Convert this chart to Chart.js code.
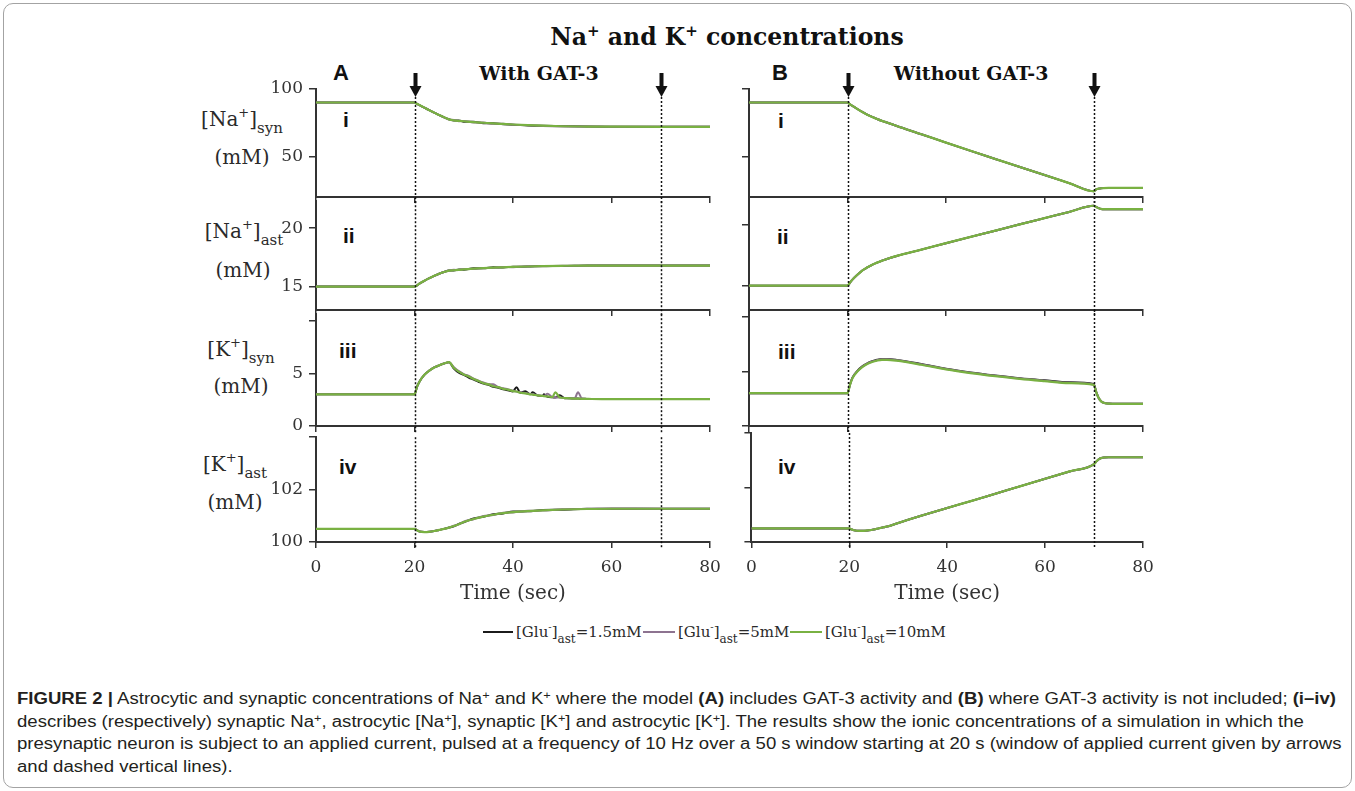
<!DOCTYPE html>
<html>
<head>
<meta charset="utf-8">
<script src="https://cdn.jsdelivr.net/npm/chart.js@4.4.0/dist/chart.umd.min.js"></script>
<style>
html,body{margin:0;padding:0;background:#fff;}
#fig{position:relative;width:1355px;height:791px;overflow:hidden;font-family:'DejaVu Serif',serif;color:#2a2a2a;}
#frame{position:absolute;left:3px;top:3px;width:1349px;height:785px;box-sizing:border-box;border:1.5px solid #a3a3a3;border-radius:10px;}
canvas{position:absolute;}
.t{position:absolute;white-space:nowrap;line-height:24px;}
.c{transform:translate(-50%,-50%);}
.m{transform:translateY(-50%);}
.ylab{font-size:20px;}
.ylab sup{font-size:13px;vertical-align:9px;line-height:0;}
.ylab sub{font-size:15px;vertical-align:-7px;line-height:0;}
.num{font:bold 21px 'Liberation Sans',Arial,sans-serif;color:#111;}
.head{font-weight:bold;font-size:19px;color:#111;}
.leg{position:absolute;top:620px;height:24px;line-height:24px;font-size:15px;white-space:nowrap;}
.leg i{display:inline-block;height:2px;margin-right:3px;vertical-align:middle;position:relative;top:-1px;}
.leg sup{font-size:10px;vertical-align:7px;line-height:0;}
.leg sub{font-size:12px;vertical-align:-6px;line-height:0;}
#cap{position:absolute;left:17px;top:688px;font-family:'Liberation Sans',Arial,sans-serif;font-size:16px;line-height:22.7px;color:#231f20;transform-origin:0 0;}
#cap div{white-space:nowrap;}
#cap sup{font-size:11px;vertical-align:5px;line-height:0;}
</style>
</head>
<body>
<div id="fig">
  <div id="frame"></div>

  <div class="t c" style="left:727px;top:37px;font-size:23.5px;font-weight:bold;color:#111;">Na<sup style="font-size:15px;line-height:0;vertical-align:9px">+</sup> and K<sup style="font-size:15px;line-height:0;vertical-align:9px">+</sup> concentrations</div>

  <div class="t c" style="left:341px;top:73px;font:bold 22px 'Liberation Sans',Arial,sans-serif;color:#111;">A</div>
  <div class="t c head" style="left:539px;top:73px;">With GAT-3</div>
  <div class="t c" style="left:780px;top:73px;font:bold 22px 'Liberation Sans',Arial,sans-serif;color:#111;">B</div>
  <div class="t c head" style="left:971px;top:73px;">Without GAT-3</div>

  <div class="t c ylab" style="left:242px;top:119px;">[Na<sup>+</sup>]<sub>syn</sub></div>
  <div class="t c ylab" style="left:242px;top:157px;">(mM)</div>
  <div class="t c ylab" style="left:244px;top:231px;">[Na<sup>+</sup>]<sub>ast</sub></div>
  <div class="t c ylab" style="left:243px;top:270px;">(mM)</div>
  <div class="t c ylab" style="left:241px;top:349px;">[K<sup>+</sup>]<sub>syn</sub></div>
  <div class="t c ylab" style="left:241px;top:386px;">(mM)</div>
  <div class="t c ylab" style="left:235px;top:464px;">[K<sup>+</sup>]<sub>ast</sub></div>
  <div class="t c ylab" style="left:235px;top:502px;">(mM)</div>

  <div class="t m num" style="left:343px;top:120px;">i</div>
  <div class="t m num" style="left:343px;top:236px;">ii</div>
  <div class="t m num" style="left:339px;top:351px;">iii</div>
  <div class="t m num" style="left:339px;top:467px;">iv</div>
  <div class="t m num" style="left:778px;top:121px;">i</div>
  <div class="t m num" style="left:777px;top:237px;">ii</div>
  <div class="t m num" style="left:778px;top:352px;">iii</div>
  <div class="t m num" style="left:778px;top:467px;">iv</div>

  <div class="leg" style="left:483px;"><i style="width:30px;background:#1b1b1b"></i><span>[Glu<sup>-</sup>]<sub>ast</sub>=1.5mM</span></div>
  <div class="leg" style="left:643px;"><i style="width:32px;background:#8d7390"></i><span>[Glu<sup>-</sup>]<sub>ast</sub>=5mM</span></div>
  <div class="leg" style="left:790px;"><i style="width:32px;background:#79b142"></i><span>[Glu<sup>-</sup>]<sub>ast</sub>=10mM</span></div>

  <div id="cap">
    <div><span id="capLine1"><b>FIGURE 2 |</b> Astrocytic and synaptic concentrations of Na<sup>+</sup> and K<sup>+</sup> where the model <b>(A)</b> includes GAT-3 activity and <b>(B)</b> where GAT-3 activity is not included; <b>(i–iv)</b></span></div>
    <div>describes (respectively) synaptic Na<sup>+</sup>, astrocytic [Na<sup>+</sup>], synaptic [K<sup>+</sup>] and astrocytic [K<sup>+</sup>]. The results show the ionic concentrations of a simulation in which the</div>
    <div>presynaptic neuron is subject to an applied current, pulsed at a frequency of 10 Hz over a 50 s window starting at 20 s (window of applied current given by arrows</div>
    <div>and dashed vertical lines).</div>
  </div>
</div>

<script>
// time axes (sec)
const tA  = [0, 20, 20.5, 21, 22, 23, 24, 25, 26, 27, 28, 29, 30, 32, 34, 36, 38, 40, 43, 46, 50, 55, 60, 70, 80];
const tA3 = [0, 20, 20.5, 21, 22, 23, 24, 25, 26, 27, 28, 29, 30, 31, 32, 33, 34, 35, 36, 37, 38, 39, 40,
             40.7, 41.5, 42.5, 43.5, 44, 45, 46, 46.3, 47, 48, 48.6, 49.5, 50.5, 51.5, 52.5, 53.2, 54, 55, 56, 58, 60, 70, 80];
const tB  = [0, 20, 20.5, 21, 22, 23, 24, 25, 26, 27, 28, 30, 35, 40, 45, 50, 55, 60, 65, 70, 70.5, 71, 71.5, 72, 73, 75, 80];

// A: with GAT-3
const naSynA_black  = [90, 90, 89, 88.1, 86.2, 84.3, 82.5, 80.7, 79, 77.6, 76.6, 76.7, 75.8, 75.7, 74.7, 74.6, 73.8, 73.6, 73, 72.7, 72.5, 72.2, 72.1, 72, 72];
const naSynA_purple = [90, 90, 89, 88.1, 86.2, 84.3, 82.5, 80.7, 79, 77.4, 77, 76.2, 76.3, 75.2, 75.1, 74.2, 74.3, 73.5, 73.3, 72.6, 72.3, 72.3, 72.1, 72, 72];
const naSynA_green  = [90, 90, 89, 88.1, 86.2, 84.3, 82.5, 80.7, 79, 77.5, 76.8, 76.4, 76.1, 75.5, 75, 74.5, 74.1, 73.7, 73.2, 72.8, 72.4, 72.2, 72.1, 72, 72];

const naAstA_black  = [15, 15, 15.1, 15.25, 15.5, 15.72, 15.92, 16.1, 16.25, 16.37, 16.38, 16.46, 16.45, 16.56, 16.56, 16.65, 16.63, 16.7, 16.71, 16.77, 16.77, 16.81, 16.8, 16.8, 16.8];
const naAstA_purple = [15, 15, 15.1, 15.25, 15.5, 15.72, 15.92, 16.1, 16.25, 16.37, 16.43, 16.41, 16.5, 16.51, 16.6, 16.6, 16.68, 16.66, 16.74, 16.74, 16.79, 16.79, 16.8, 16.8, 16.8];
const naAstA_green  = [15, 15, 15.1, 15.25, 15.5, 15.72, 15.92, 16.1, 16.25, 16.37, 16.4, 16.43, 16.47, 16.53, 16.58, 16.62, 16.65, 16.68, 16.72, 16.75, 16.78, 16.8, 16.8, 16.8, 16.8];

const kSynA_black  = [3, 3, 3.7, 4.2, 4.85, 5.25, 5.55, 5.75, 5.92, 6.05, 5.45, 5.05, 4.85, 4.6, 4.4, 4.2, 4.02, 3.9, 3.72, 3.62,
                      3.48, 3.38, 3.28, 3.67, 3.15, 3.3, 3.0, 3.2, 2.88, 2.84, 3.02, 2.77, 2.72, 2.7, 2.92, 2.64, 2.62, 2.6, 2.6, 2.58, 2.57, 2.56, 2.55, 2.55, 2.55, 2.55];
const kSynA_purple = [3, 3, 3.7, 4.2, 4.85, 5.25, 5.55, 5.75, 5.92, 6.05, 5.58, 5.2, 4.92, 4.75, 4.5, 4.3, 4.12, 3.98, 3.95, 3.7,
                      3.58, 3.47, 3.35, 3.26, 3.2, 3.12, 3.04, 3.0, 2.93, 2.87, 2.85, 3.05, 2.76, 2.73, 2.69, 2.66, 2.63, 2.61, 3.2, 2.6, 2.57, 2.56, 2.55, 2.55, 2.55, 2.55];
const kSynA_green  = [3, 3, 3.7, 4.2, 4.85, 5.25, 5.55, 5.75, 5.92, 6.05, 5.5, 5.15, 4.88, 4.7, 4.45, 4.27, 4.06, 3.95, 3.77, 3.68,
                      3.52, 3.45, 3.3, 3.27, 3.15, 3.1, 3.0, 2.98, 2.9, 2.86, 2.82, 2.8, 2.74, 3.2, 2.7, 2.65, 2.62, 2.6, 2.59, 2.58, 2.57, 2.56, 2.55, 2.55, 2.55, 2.55];

const kAstA_black  = [100.5, 100.5, 100.45, 100.4, 100.38, 100.39, 100.42, 100.46, 100.5, 100.55, 100.6, 100.69, 100.75, 100.9, 100.96, 101.06, 101.09, 101.16, 101.17, 101.22, 101.23, 101.27, 101.27, 101.27, 101.27];
const kAstA_purple = [100.5, 100.5, 100.45, 100.4, 100.38, 100.39, 100.42, 100.46, 100.5, 100.55, 100.62, 100.67, 100.78, 100.87, 100.99, 101.03, 101.12, 101.13, 101.19, 101.2, 101.25, 101.26, 101.28, 101.27, 101.27];
const kAstA_green  = [100.5, 100.5, 100.45, 100.4, 100.38, 100.39, 100.42, 100.46, 100.5, 100.55, 100.61, 100.68, 100.76, 100.88, 100.97, 101.04, 101.1, 101.14, 101.18, 101.21, 101.24, 101.26, 101.27, 101.27, 101.27];

// B: without GAT-3 (the three curves coincide except in iii)
const naSynB = [90, 90, 88.7, 87.5, 85.2, 83, 81, 79.3, 77.8, 76.4, 75.2, 72.6, 66.5, 60.3, 54.2, 48.2, 42.2, 36.3, 30.3, 24.3, 25.6, 26.2, 26.5, 26.6, 26.7, 26.7, 26.7];
const naAstB = [15, 15, 15.25, 15.5, 15.9, 16.25, 16.5, 16.72, 16.9, 17.05, 17.2, 17.45, 17.97, 18.5, 19.02, 19.53, 20.05, 20.56, 21.07, 21.58, 21.48, 21.38, 21.32, 21.3, 21.3, 21.3, 21.3];
const kSynB_black  = [3, 3, 3.78, 4.42, 5.04, 5.45, 5.73, 5.92, 6.05, 6.12, 6.12, 6.04, 5.67, 5.24, 4.9, 4.62, 4.37, 4.17, 3.99, 3.83, 3.12, 2.56, 2.26, 2.12, 2.05, 2.03, 2.03];
const kSynB_purple = [3, 3, 3.77, 4.4, 5.01, 5.42, 5.7, 5.89, 6.02, 6.09, 6.09, 6.01, 5.64, 5.21, 4.87, 4.59, 4.34, 4.14, 3.96, 3.8, 3.11, 2.55, 2.25, 2.12, 2.05, 2.03, 2.03];
const kSynB_green  = [3, 3, 3.75, 4.37, 4.98, 5.38, 5.66, 5.85, 5.98, 6.05, 6.05, 5.97, 5.6, 5.17, 4.83, 4.55, 4.3, 4.1, 3.92, 3.76, 3.1, 2.55, 2.25, 2.12, 2.05, 2.03, 2.03];
const kAstB = [100.5, 100.5, 100.46, 100.43, 100.41, 100.41, 100.43, 100.46, 100.5, 100.54, 100.58, 100.7, 100.98, 101.25, 101.51, 101.78, 102.05, 102.32, 102.59, 102.86, 102.96, 103.04, 103.08, 103.1, 103.11, 103.11, 103.11];

// ticks
const timeTicks = [0, 20, 40, 60, 80];
const rowTicks = [[50, 100], [15, 20], [0, 5, 10], [100, 102, 104]];
const rowTickLabels = [['50', '100'], ['15', '20'], ['0', '5', ''], ['100', '102', '']];
const rowRange = [[20, 100], [13, 22.3], [0, 10.6], [100, 104]];
const stimMarks = [20, 70];

const colors = { black: '#1b1b1b', purple: '#8d7390', green: '#79b142', axis: '#333' };

// layout (page pixels)
const rowTop = [89, 197, 310, 433];
const rowBot = [197, 310, 426, 542];
const padTop = [32, 12, 12, 12];
const padBot = [12, 12, 12, 4];
const xH = [6, 6, 6, 68];
const lineExt = [6, 6, 7, 6];

const panels = [
  { left: 316, yW: 44, labels: true, rows: [
    { t: tA,  k: naSynA_black, p: naSynA_purple, g: naSynA_green },
    { t: tA,  k: naAstA_black, p: naAstA_purple, g: naAstA_green },
    { t: tA3, k: kSynA_black,  p: kSynA_purple,  g: kSynA_green },
    { t: tA,  k: kAstA_black,  p: kAstA_purple,  g: kAstA_green } ] },
  { left: 749, yW: 8, labels: false, rows: [
    { t: tB, k: naSynB, p: naSynB, g: naSynB },
    { t: tB, k: naAstB, p: naAstB, g: naAstB },
    { t: tB, k: kSynB_black, p: kSynB_purple, g: kSynB_green },
    { t: tB, k: kAstB, p: kAstB, g: kAstB } ] }
];

const stimWindow = {
  id: 'stimWindow',
  afterDatasetsDraw(chart, args, opts) {
    const { ctx, chartArea } = chart;
    const x = chart.scales.x;
    ctx.save();
    stimMarks.forEach(m => {
      const px = Math.round(x.getPixelForValue(m)) + 0.5;
      const y0 = opts.arrow ? chartArea.top + 8 : chartArea.top;
      ctx.strokeStyle = '#111';
      ctx.lineWidth = 1.5;
      ctx.setLineDash([2, 2]);
      ctx.beginPath();
      ctx.moveTo(px, y0);
      ctx.lineTo(px, chartArea.bottom + opts.ext);
      ctx.stroke();
      if (opts.arrow) {
        ctx.setLineDash([]);
        ctx.fillStyle = '#111';
        ctx.fillRect(px - 2, chartArea.top - 16, 4, 14);
        ctx.beginPath();
        ctx.moveTo(px - 6, chartArea.top - 3);
        ctx.lineTo(px + 6, chartArea.top - 3);
        ctx.lineTo(px, chartArea.top + 8);
        ctx.closePath();
        ctx.fill();
      }
    });
    ctx.restore();
  }
};

Chart.defaults.font.family = "'DejaVu Serif', serif";
Chart.defaults.color = colors.axis;

const fig = document.getElementById('fig');
const padL = 4, padR = 20, areaW = 394;

panels.forEach(panel => {
  panel.rows.forEach((row, i) => {
    const cv = document.createElement('canvas');
    const w = padL + panel.yW + areaW + padR;
    const h = padTop[i] + (rowBot[i] - rowTop[i]) + xH[i] + padBot[i];
    cv.width = w; cv.height = h;
    cv.style.width = w + 'px'; cv.style.height = h + 'px';
    cv.style.left = (panel.left - panel.yW - padL) + 'px';
    cv.style.top = (rowTop[i] - padTop[i]) + 'px';
    fig.appendChild(cv);

    const line = (vals, color, order, width) => ({
      data: row.t.map((t, j) => ({ x: t, y: vals[j] })),
      borderColor: color, borderWidth: width, order,
      pointRadius: 0, fill: false, cubicInterpolationMode: 'monotone'
    });

    new Chart(cv, {
      type: 'line',
      data: { datasets: [
        line(row.k, colors.black, 3, 2),
        line(row.p, colors.purple, 2, 2),
        line(row.g, colors.green, 1, 2.2)
      ] },
      plugins: [stimWindow],
      options: {
        responsive: false,
        animation: false,
        events: [],
        layout: { padding: { top: padTop[i], bottom: padBot[i], left: padL, right: padR } },
        plugins: {
          legend: { display: false },
          tooltip: { enabled: false },
          stimWindow: { arrow: i === 0, ext: lineExt[i] }
        },
        scales: {
          x: {
            type: 'linear', min: 0, max: 80,
            afterBuildTicks: s => { s.ticks = timeTicks.map(v => ({ value: v })); },
            afterFit: s => { s.height = xH[i]; },
            ticks: { display: i === 3, padding: 9, maxRotation: 0, font: { size: 17 }, color: colors.axis },
            grid: { drawOnChartArea: false, tickLength: 6, color: colors.axis, lineWidth: 1.5 },
            border: { color: colors.axis, width: 2 },
            title: { display: i === 3, text: 'Time (sec)', font: { size: 20 }, color: colors.axis, padding: { top: 4, bottom: 4 } }
          },
          y: {
            min: rowRange[i][0], max: rowRange[i][1],
            afterBuildTicks: s => { s.ticks = rowTicks[i].map(v => ({ value: v })); },
            afterFit: s => { s.width = panel.yW; },
            ticks: { display: panel.labels, padding: 6, font: { size: 17 }, color: colors.axis,
                     callback: (v, j) => rowTickLabels[i][j] },
            grid: { drawOnChartArea: false, tickLength: 7, color: colors.axis, lineWidth: 1.5 },
            border: { color: colors.axis, width: 2 }
          }
        }
      }
    });
  });
});

// caption: fit the first line to the frame width
const cap = document.getElementById('cap');
const w1 = document.getElementById('capLine1').getBoundingClientRect().width;
cap.style.transform = 'scaleX(' + (1319 / w1) + ')';
</script>
</body>
</html>
